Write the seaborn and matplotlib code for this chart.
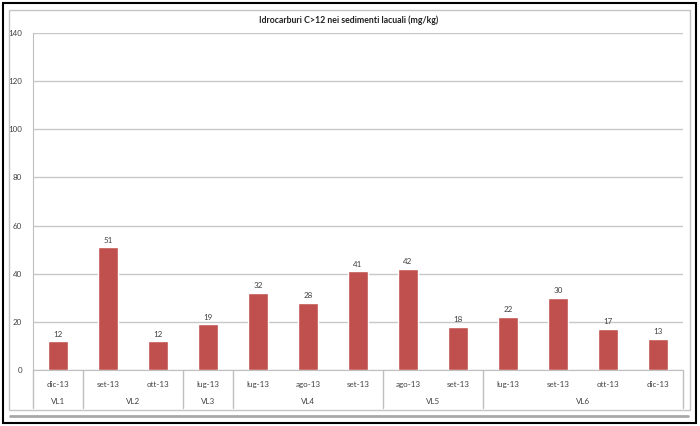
import matplotlib
matplotlib.use('Agg')
import matplotlib.pyplot as plt
from matplotlib.patches import Rectangle
import seaborn as sns
import pandas as pd

# data
groups = ['VL1', 'VL2', 'VL2', 'VL3', 'VL4', 'VL4', 'VL4', 'VL5', 'VL5', 'VL6', 'VL6', 'VL6', 'VL6']
months = ['dic-13', 'set-13', 'ott-13', 'lug-13', 'lug-13', 'ago-13', 'set-13',
          'ago-13', 'set-13', 'lug-13', 'set-13', 'ott-13', 'dic-13']
values = [12, 51, 12, 19, 32, 28, 41, 42, 18, 22, 30, 17, 13]

df = pd.DataFrame({'group': groups, 'month': months, 'value': values})
df['key'] = df['group'] + ' ' + df['month']

sns.set_style('white')
plt.rcParams['font.family'] = ['Lato', 'DejaVu Sans']

W, H = 700, 426
fig = plt.figure(figsize=(7, 4.26), dpi=100)
ax = fig.add_axes([33 / W, 1 - 370 / H, 650 / W, 337 / H])

# frames around the chart
fig.patches.append(Rectangle((3 / W, 1 - 423 / H), 693 / W, 420 / H, transform=fig.transFigure,
                             fill=False, edgecolor='black', linewidth=1.5))
fig.patches.append(Rectangle((9 / W, 1 - 410 / H), 681 / W, 400 / H, transform=fig.transFigure,
                             fill=False, edgecolor='#c4c4c4', linewidth=1))
fig.lines.append(plt.Line2D([10 / W, 688 / W], [1 - 416 / H, 1 - 416 / H], transform=fig.transFigure,
                            color='#a8a8a8', linewidth=2))

sns.barplot(data=df, x='key', y='value', order=list(df['key']), color='#C0504D',
            saturation=1, width=0.4, ax=ax, zorder=3)

ax.set_ylim(0, 140)
ax.set_xlim(-0.5, len(values) - 0.5)
ax.set_yticks(range(0, 141, 20))
ax.yaxis.grid(True, color='#c8c8c8', linewidth=1)
ax.set_axisbelow(True)
for s in ['top', 'right']:
    ax.spines[s].set_visible(False)
ax.spines['left'].set_color('#bfbfbf')
ax.spines['bottom'].set_color('#bfbfbf')
ax.tick_params(axis='y', length=0, labelsize=5.8, colors='#404040', pad=8)
ax.set_xticks(range(len(values)))
ax.set_xticklabels(months)
ax.tick_params(axis='x', length=0, labelsize=5.8, colors='#404040', pad=8)
ax.set_xlabel('')
ax.set_ylabel('')

# value labels
for i, v in enumerate(values):
    ax.text(i, v + 1.5, str(v), ha='center', va='bottom', fontsize=5.8, color='#404040')

# group separators and labels
trans = ax.get_xaxis_transform()
low = -38 / 337
edges = [-0.5]
for i in range(1, len(groups)):
    if groups[i] != groups[i - 1]:
        edges.append(i - 0.5)
edges.append(len(groups) - 0.5)
for e in edges:
    ax.plot([e, e], [0, low], transform=trans, color='#bfbfbf', linewidth=1, clip_on=False)
for a, b in zip(edges[:-1], edges[1:]):
    name = groups[int(a + 0.5)]
    ax.text((a + b) / 2, -32 / 337, name, transform=trans, ha='center', va='center',
            fontsize=5.8, color='#404040')

fig.text(349 / W, 1 - 20 / H, 'Idrocarburi C>12 nei sedimenti lacuali (mg/kg)',
         ha='center', va='center', fontsize=6.3, fontweight='bold', color='#202020')

fig.savefig('out.png', dpi=100)
